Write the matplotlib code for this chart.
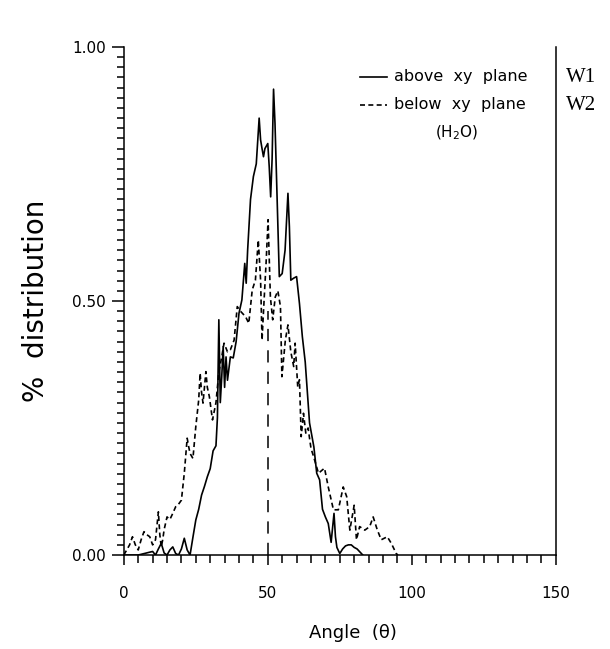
import numpy as np
import matplotlib.pyplot as plt
from matplotlib.ticker import MultipleLocator

# W1: water above the xy plane (solid)
theta_w1 = [0, 5, 10, 11, 12, 13, 14, 15, 16, 17, 18, 19, 20, 21, 22, 23, 24, 25, 26, 27,
            28, 29, 30, 31, 32, 32.5, 33, 33.5, 34, 34.5, 35, 35.5, 36, 37, 38, 39, 40, 41,
            42, 42.5, 43, 44, 45, 46, 47, 47.5, 48, 48.5, 49, 50, 50.5, 51, 51.5, 52, 52.5,
            53, 54, 55, 56, 57, 57.5, 58, 59, 60, 61, 62, 63, 64, 64.5, 66, 67, 68, 69, 70,
            71, 72, 73, 73.5, 74, 75, 76, 77, 78, 79, 80, 81, 82, 83]
dist_w1 = [0, 0, 0.007, 0.0, 0.012, 0.023, 0.004, 0.0, 0.01, 0.016, 0.003, 0.0, 0.012, 0.033,
           0.01, 0.0, 0.035, 0.069, 0.09, 0.118, 0.135, 0.154, 0.17, 0.205, 0.215, 0.27, 0.463,
           0.3, 0.35, 0.41, 0.33, 0.39, 0.344, 0.39, 0.388, 0.42, 0.476, 0.502, 0.574, 0.535,
           0.60, 0.70, 0.745, 0.77, 0.86, 0.817, 0.80, 0.784, 0.80, 0.81, 0.764, 0.705, 0.78,
           0.917, 0.85, 0.75, 0.548, 0.554, 0.60, 0.712, 0.646, 0.541, 0.545, 0.548, 0.495,
           0.43, 0.38, 0.30, 0.26, 0.213, 0.161, 0.148, 0.09, 0.075, 0.062, 0.025, 0.082,
           0.036, 0.015, 0.003, 0.012, 0.018, 0.02, 0.02, 0.015, 0.012, 0.006, 0.0]

# W2: water below the xy plane (dashed)
theta_w2 = [0, 1, 2, 3, 4, 5, 6, 7, 8, 9, 10, 11, 12, 12.5, 13, 13.5, 14, 15, 16, 17, 18, 19,
            20, 21, 22, 22.5, 23, 24, 25, 26, 26.5, 27, 27.5, 28.5, 29, 29.7, 30.8, 32, 33, 34,
            34.8, 36, 37, 38.3, 39.4, 40.5, 42.3, 43.4, 44.6, 45.7, 46.7, 47.5, 48, 48.7, 49.4,
            50.1, 50.9, 51.7, 52.6, 53.5, 54.4, 54.9, 56.1, 57, 58, 59, 59.5, 60.4, 61, 61.6,
            62.4, 63.2, 64, 65, 65.9, 67.6, 69.7, 71, 72.8, 74.5, 76.2, 77.4, 78.5, 80, 80.8,
            81.9, 83.7, 85.4, 86.6, 88, 89.4, 91.5, 92.9, 94.6, 95.2]
dist_w2 = [0, 0.01, 0.02, 0.036, 0.02, 0.01, 0.03, 0.046, 0.04, 0.036, 0.02, 0.03, 0.085, 0.04,
           0.016, 0.03, 0.05, 0.075, 0.07, 0.082, 0.095, 0.1, 0.108, 0.161, 0.23, 0.214, 0.2,
           0.19, 0.253, 0.305, 0.358, 0.32, 0.299, 0.361, 0.33, 0.312, 0.266, 0.30, 0.36, 0.39,
           0.417, 0.40, 0.404, 0.423, 0.489, 0.48, 0.469, 0.456, 0.522, 0.541, 0.62, 0.541,
           0.423, 0.5, 0.574, 0.66, 0.508, 0.463, 0.508, 0.52, 0.489, 0.351, 0.423, 0.453, 0.40,
           0.371, 0.417, 0.331, 0.345, 0.233, 0.279, 0.24, 0.25, 0.21, 0.194, 0.161, 0.171,
           0.134, 0.089, 0.089, 0.134, 0.115, 0.049, 0.098, 0.03, 0.056, 0.049, 0.056, 0.075,
           0.05, 0.03, 0.036, 0.023, 0.003, 0.0]

x_ticks = [0, 50, 100, 150]
y_ticks = [0.0, 0.5, 1.0]
mean_angle = 50
mean_top = 0.48

fig = plt.figure(figsize=(6.1, 6.49), dpi=100)
ax = fig.add_axes([0.203, 0.1448, 0.708, 0.7828])

ax.plot(theta_w1, dist_w1, color='black', lw=1.2)
ax.plot(theta_w2, dist_w2, color='black', lw=1.2, linestyle=(0, (3, 2)))
ax.plot([mean_angle, mean_angle], [0, mean_top], color='black', lw=1.1, linestyle=(0, (8, 6)))

ax.set_xlim(0, 150)
ax.set_ylim(0, 1.0)
ax.spines['top'].set_visible(False)
for s in ['left', 'right', 'bottom']:
    ax.spines[s].set_linewidth(1.1)

ax.set_xticks(x_ticks)
ax.set_xticklabels([str(v) for v in x_ticks])
ax.set_yticks(y_ticks)
ax.set_yticklabels(['%.2f' % v for v in y_ticks])
ax.xaxis.set_minor_locator(MultipleLocator(5))
ax.yaxis.set_minor_locator(MultipleLocator(0.02))
ax.tick_params(axis='x', which='major', direction='out', length=7, width=1.1, pad=15, labelsize=11)
ax.tick_params(axis='x', which='minor', direction='out', length=6, width=1.1)
ax.tick_params(axis='y', which='major', direction='out', length=9, width=1.1, pad=4, labelsize=11)
ax.tick_params(axis='y', which='minor', direction='out', length=5, width=1.1)

ax.set_xlabel('Angle  (θ)', fontsize=13)
ax.xaxis.set_label_coords(0.53, -0.135)
ax.set_ylabel('%  distribution', fontsize=20)
ax.yaxis.set_label_coords(-0.17, 0.5)

# hand-drawn style legend
ax.plot([0.546, 0.61], [0.941, 0.941], transform=ax.transAxes, color='black', lw=1.2)
ax.plot([0.546, 0.61], [0.886, 0.886], transform=ax.transAxes, color='black', lw=1.2,
        linestyle=(0, (3, 2)))
ax.text(0.625, 0.941, 'above  xy  plane', transform=ax.transAxes, fontsize=11.5, va='center')
ax.text(0.625, 0.886, 'below  xy  plane', transform=ax.transAxes, fontsize=11.5, va='center')
ax.text(0.77, 0.832, '(H$_2$O)', transform=ax.transAxes, fontsize=11, va='center', ha='center')

fig.text(0.928, 0.881, 'W1', family='Liberation Serif', fontsize=15, va='center')
fig.text(0.928, 0.838, 'W2', family='Liberation Serif', fontsize=15, va='center')

fig.savefig('out.png', dpi=100)
